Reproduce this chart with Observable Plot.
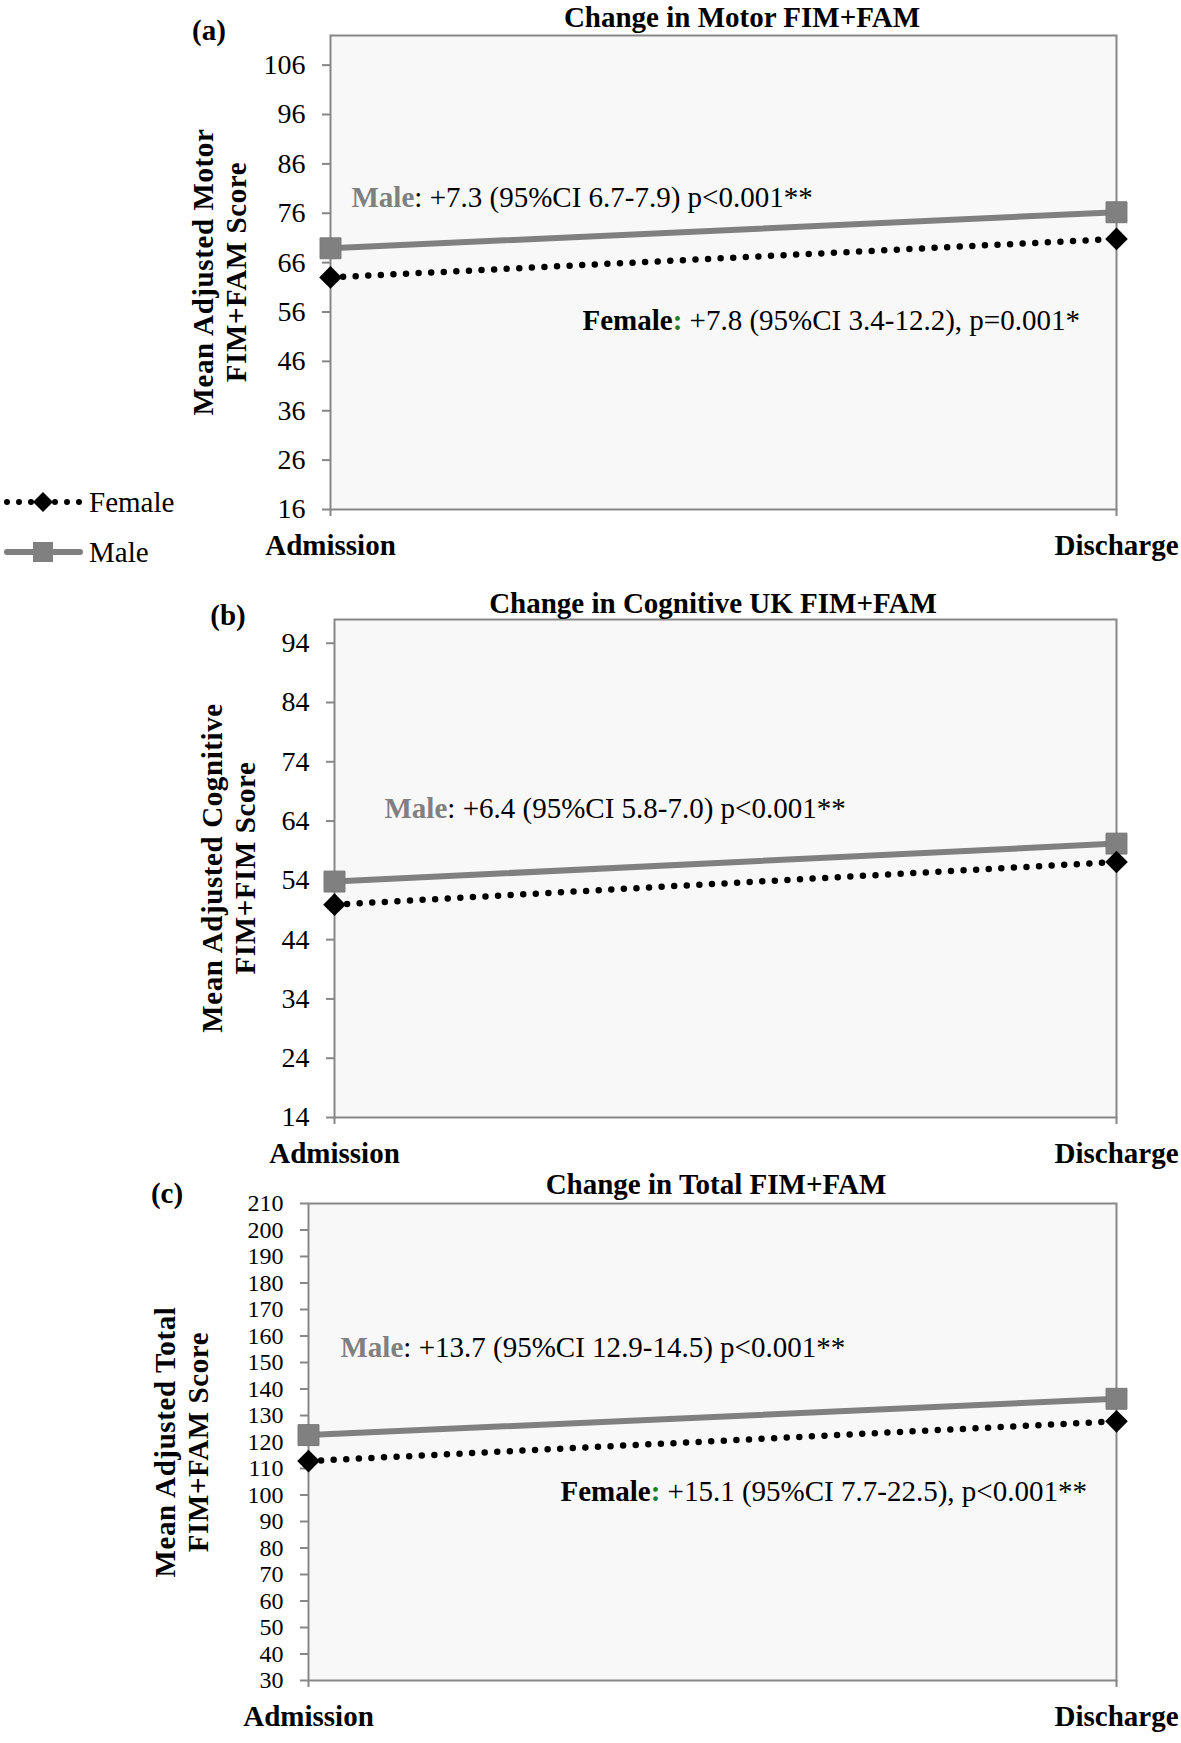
<!DOCTYPE html>
<html><head><meta charset="utf-8">
<script src="https://cdn.jsdelivr.net/npm/d3@7"></script>
<script src="https://cdn.jsdelivr.net/npm/@observablehq/plot@0.6"></script>
<style>
body{margin:0;background:#fff;}
#wrap{position:relative;width:1181px;height:1743px;overflow:hidden;font-family:"Liberation Serif","Times New Roman",serif;}
#wrap > svg{position:absolute;left:0;}
</style></head><body><div id="wrap"></div>
<script>
// ---------- data ----------
const categories = ["Admission", "Discharge"];
const seriesNames = ["Female", "Male"];

const motorMale = [68.9, 76.2];
const motorFemale = [63.0, 70.8];
const cogMale = [53.8, 60.2];
const cogFemale = [49.9, 57.1];
const totalMale = [122.6, 136.3];
const totalFemale = [112.8, 127.8];

const motorTicks = [16, 26, 36, 46, 56, 66, 76, 86, 96, 106];
const cogTicks = [14, 24, 34, 44, 54, 64, 74, 84, 94];
const totalTicks = [30, 40, 50, 60, 70, 80, 90, 100, 110, 120, 130, 140, 150, 160, 170, 180, 190, 200, 210];

const titles = ["Change in Motor FIM+FAM", "Change in Cognitive UK FIM+FAM", "Change in Total FIM+FAM"];
const panelLetters = ["(a)", "(b)", "(c)"];
const yLabels = [["Mean Adjusted Motor", "FIM+FAM Score"], ["Mean Adjusted Cognitive", "FIM+FIM Score"], ["Mean Adjusted Total", "FIM+FAM Score"]];

const motorNoteSex = ["Male", "Female"];
const motorNoteStat = ["+7.3 (95%CI 6.7-7.9) p<0.001**", "+7.8 (95%CI 3.4-12.2), p=0.001*"];
const cogNoteSex = ["Male"];
const cogNoteStat = ["+6.4 (95%CI 5.8-7.0) p<0.001**"];
const totalNoteSex = ["Male", "Female"];
const totalNoteStat = ["+13.7 (95%CI 12.9-14.5) p<0.001**", "+15.1 (95%CI 7.7-22.5), p<0.001**"];

// ---------- style ----------
const GRAY = "#808080";
const AXIS = "#878787";
const GREEN = "#1f7a2f";
const FONT = "'Liberation Serif','Times New Roman',serif";

const wrap = document.getElementById("wrap");

function makePanel(cfg) {
  const male = categories.map((c, i) => ({time: c, value: cfg.male[i]}));
  const female = categories.map((c, i) => ({time: c, value: cfg.female[i]}));
  const noteMarks = cfg.noteSex.map((s, i) =>
    Plot.text([{sex: s, stat: cfg.noteStat[i], y: cfg.noteY[i]}], {
      x: () => categories[0], y: "y", text: d => d.sex + ": " + d.stat,
      textAnchor: "start", dx: cfg.noteDx[i], fontSize: 29, fill: "black"
    })
  );
  const svg = Plot.plot({
    width: 1181, height: cfg.height,
    marginTop: cfg.mt, marginBottom: cfg.height - cfg.frameBottom, marginLeft: cfg.ml, marginRight: 65,
    style: {fontFamily: FONT, fontSize: "28px", background: "transparent", overflow: "visible", color: "black"},
    x: {type: "point", domain: categories, padding: 0},
    y: {domain: cfg.yDomain},
    marks: [
      Plot.frame({fill: "#f8f8f8", stroke: AXIS, strokeWidth: 2}),
      Plot.axisY({ticks: cfg.ticks, tickSize: 8, tickPadding: 17, color: "black", stroke: AXIS, strokeWidth: 2, fontSize: cfg.tickFont, label: null}),
      Plot.axisX({tickSize: 7, tickPadding: 18, color: "black", stroke: AXIS, strokeWidth: 2, fontSize: 29, fontWeight: "bold", label: null}),
      Plot.line(male, {x: "time", y: "value", stroke: GRAY, strokeWidth: 6}),
      Plot.line(female, {x: "time", y: "value", stroke: "black", strokeWidth: 6.5, strokeDasharray: "0 12.6", strokeLinecap: "round"}),
      Plot.dot(male, {x: "time", y: "value", symbol: "square", r: 11.8, fill: GRAY, stroke: "#777", strokeWidth: 1}),
      Plot.dot(female, {x: "time", y: "value", symbol: "diamond2", r: 10.2, fill: "black"}),
      ...noteMarks
    ]
  });
  svg.style.top = cfg.top + "px";
  // style the annotation texts: bold sex label, coloured
  svg.querySelectorAll('g[aria-label="text"] text').forEach(t => {
    const s = t.textContent;
    const idx = s.indexOf(": ");
    if (idx < 0) return;
    const sex = s.slice(0, idx), rest = s.slice(idx + 1);
    t.textContent = "";
    const ns = "http://www.w3.org/2000/svg";
    const a = document.createElementNS(ns, "tspan");
    a.textContent = sex; a.setAttribute("font-weight", "bold");
    a.setAttribute("fill", sex === "Male" ? GRAY : "black");
    const b = document.createElementNS(ns, "tspan");
    b.textContent = ":";
    if (sex === "Female") { b.setAttribute("font-weight", "bold"); b.setAttribute("fill", GREEN); }
    const c = document.createElementNS(ns, "tspan");
    c.textContent = rest.slice(1); c.setAttribute("fill", "black");
    t.append(a, b, document.createTextNode(" "), c);
  });
  wrap.appendChild(svg);
}

makePanel({top: 0, height: 580, mt: 35, frameBottom: 509, ml: 330, yDomain: [16, 112], ticks: motorTicks, tickFont: 28,
  male: motorMale, female: motorFemale, noteSex: motorNoteSex, noteStat: motorNoteStat, noteY: [79.2, 54.3], noteDx: [21, 252]});
makePanel({top: 580, height: 595, mt: 39, frameBottom: 537, ml: 334, yDomain: [14, 98], ticks: cogTicks, tickFont: 28,
  male: cogMale, female: cogFemale, noteSex: cogNoteSex, noteStat: cogNoteStat, noteY: [66.1], noteDx: [50]});
makePanel({top: 1175, height: 568, mt: 28, frameBottom: 505, ml: 308, yDomain: [30, 210], ticks: totalTicks, tickFont: 24,
  male: totalMale, female: totalFemale, noteSex: totalNoteSex, noteStat: totalNoteStat, noteY: [155.7, 101.3], noteDx: [32, 252]});

// ---------- overlay: titles, panel letters, axis titles, legend ----------
const ov = d3.select(wrap).append("svg").attr("width", 1181).attr("height", 1743)
  .style("top", "0px").style("font-family", FONT);

const titlePos = [[742, 17], [713, 603], [716, 1184]];
const letterPos = [[209, 30], [228, 615], [167, 1193]];
const yLabelPos = [[[203, 272], [236, 272]], [[212, 868], [245, 868]], [[165, 1442], [198, 1442]]];

titles.forEach((t, i) => ov.append("text").attr("x", titlePos[i][0]).attr("y", titlePos[i][1])
  .attr("text-anchor", "middle").attr("dominant-baseline", "central")
  .attr("font-size", 29).attr("font-weight", "bold").text(t));
panelLetters.forEach((t, i) => ov.append("text").attr("x", letterPos[i][0]).attr("y", letterPos[i][1])
  .attr("text-anchor", "middle").attr("dominant-baseline", "central")
  .attr("font-size", 29).attr("font-weight", "bold").text(t));
yLabels.forEach((lines, i) => lines.forEach((t, j) => {
  const [x, y] = yLabelPos[i][j];
  ov.append("text").attr("transform", `translate(${x},${y}) rotate(-90)`)
    .attr("text-anchor", "middle").attr("dominant-baseline", "central")
    .attr("font-size", 29).attr("font-weight", "bold").attr("letter-spacing", 0.6).text(t);
}));

// legend
const lg = ov.append("g");
const legY = {Female: 502, Male: 552};
lg.append("line").attr("x1", 7).attr("x2", 80).attr("y1", legY.Female).attr("y2", legY.Female)
  .attr("stroke", "black").attr("stroke-width", 6).attr("stroke-linecap", "round").attr("stroke-dasharray", "0 12");
lg.append("path").attr("transform", `translate(43,${legY.Female})`)
  .attr("d", d3.symbol(d3.symbolDiamond2, Math.pow(10 / 0.62625, 2))()).attr("fill", "black");
lg.append("line").attr("x1", 7).attr("x2", 80).attr("y1", legY.Male).attr("y2", legY.Male)
  .attr("stroke", GRAY).attr("stroke-width", 6).attr("stroke-linecap", "round");
lg.append("rect").attr("x", 33).attr("y", legY.Male - 10).attr("width", 20).attr("height", 20).attr("fill", GRAY);
seriesNames.forEach(n => lg.append("text").attr("x", 89).attr("y", legY[n]).attr("dominant-baseline", "central")
  .attr("font-size", 29).text(n));
</script></body></html>
